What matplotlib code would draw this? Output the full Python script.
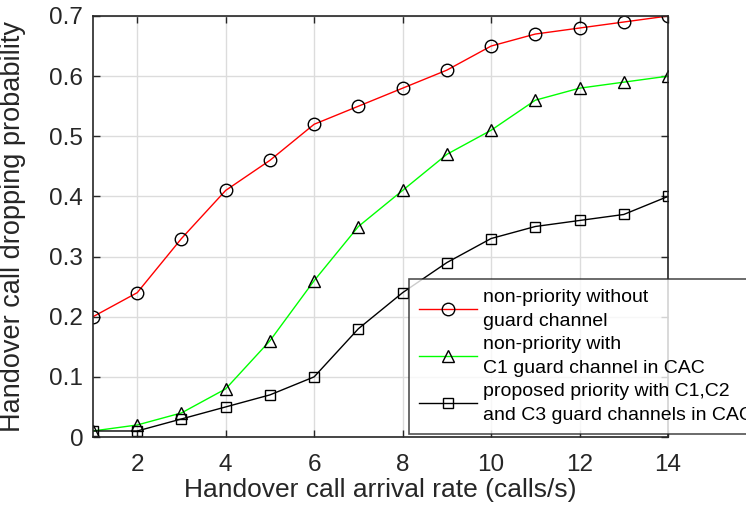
import matplotlib
matplotlib.use("Agg")
import matplotlib.pyplot as plt

plt.rcParams["font.family"] = ["Liberation Sans", "DejaVu Sans"]

arrival_rate = [1, 2, 3, 4, 5, 6, 7, 8, 9, 10, 11, 12, 13, 14]
drop_no_guard = [0.20, 0.24, 0.33, 0.41, 0.46, 0.52, 0.55, 0.58, 0.61, 0.65, 0.67, 0.68, 0.69, 0.70]
drop_c1_guard = [0.01, 0.02, 0.04, 0.08, 0.16, 0.26, 0.35, 0.41, 0.47, 0.51, 0.56, 0.58, 0.59, 0.60]
drop_proposed = [0.01, 0.01, 0.03, 0.05, 0.07, 0.10, 0.18, 0.24, 0.29, 0.33, 0.35, 0.36, 0.37, 0.40]

labels = [
    "non-priority without\nguard channel",
    "non-priority with\nC1 guard channel in CAC",
    "proposed priority with C1,C2\nand C3 guard channels in CAC",
]
xticks = [2, 4, 6, 8, 10, 12, 14]
yticks = [0, 0.1, 0.2, 0.3, 0.4, 0.5, 0.6, 0.7]
ytick_labels = ["0", "0.1", "0.2", "0.3", "0.4", "0.5", "0.6", "0.7"]

fig = plt.figure(figsize=(7.46, 5.14), dpi=100)
ax = fig.add_axes([93 / 746, 1 - 437 / 514, (668 - 93) / 746, (437 - 16) / 514])

mk = dict(markerfacecolor="none", markeredgecolor="black", markeredgewidth=1.0, lw=1.0)
ax.plot(arrival_rate, drop_no_guard, "-o", color="red", markersize=9, label=labels[0], **mk)
ax.plot(arrival_rate, drop_c1_guard, "-^", color="#00ff00", markersize=9, label=labels[1], **mk)
ax.plot(arrival_rate, drop_proposed, "-s", color="black", markersize=7, label=labels[2], **mk)

ax.set_xlim(1, 14)
ax.set_ylim(0, 0.7)
ax.set_xticks(xticks)
ax.set_yticks(yticks)
ax.set_yticklabels(ytick_labels)
ax.tick_params(direction="in", labelsize=17.5, length=5, width=1.0, colors="#262626",
               top=True, right=True)
ax.tick_params(axis="x", pad=12)
ax.tick_params(axis="y", pad=7)
ax.grid(True, color="#dcdcdc", lw=1.0)
ax.set_axisbelow(True)
for sp in ax.spines.values():
    sp.set_color("#262626")
    sp.set_linewidth(1.2)

ax.set_xlabel("Handover call arrival rate (calls/s)", fontsize=19, color="#262626", labelpad=2)
ax.set_ylabel("Handover call dropping probability", fontsize=19.5, color="#262626")
ax.yaxis.set_label_coords(-0.117, 0.5)

leg = ax.legend(loc="upper left", bbox_to_anchor=(409 / 746, 1 - 279 / 514),
                bbox_transform=fig.transFigure, fontsize=14, frameon=True, fancybox=False,
                edgecolor="#262626", handlelength=3.0, handletextpad=0.3,
                labelspacing=0.3, borderpad=0.5, borderaxespad=0)
leg.get_frame().set_linewidth(1.2)
for t in leg.get_texts():
    t.set_linespacing(1.55)
leg.set_clip_on(False)

fig.savefig("out.png", dpi=100)
